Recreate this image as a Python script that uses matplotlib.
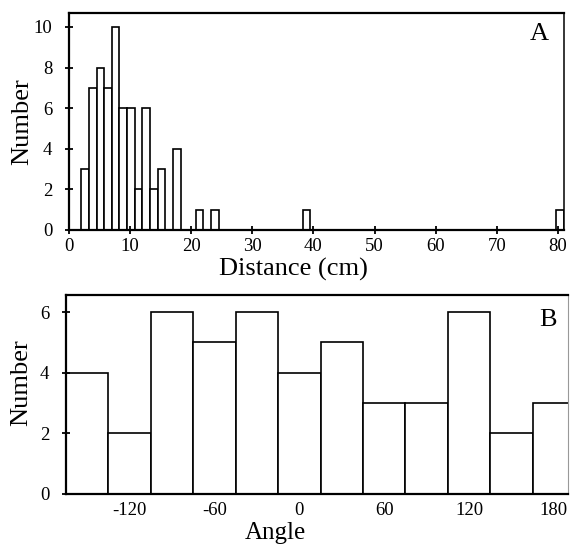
import numpy as np
import matplotlib
matplotlib.use("Agg")
import matplotlib.pyplot as plt

plt.rcParams['font.family'] = ['Liberation Serif', 'DejaVu Serif']
plt.rcParams['axes.unicode_minus'] = False

# Panel A: distance histogram (left edge of each bin, count)
dist_left = [2.0, 3.25, 4.5, 5.75, 7.0, 8.25, 9.5, 10.75, 12.0, 13.25, 14.5,
             17.0, 20.75, 23.25, 38.25, 79.75]
dist_count = [3, 7, 8, 7, 10, 6, 6, 2, 6, 2, 3, 4, 1, 1, 1, 1]
dist_width = 1.25
dist_xticks = [0, 10, 20, 30, 40, 50, 60, 70, 80]
dist_yticks = [0, 2, 4, 6, 8, 10]

# Panel B: angle histogram (bin centres, 30 degree bins)
angle_centre = [-150, -120, -90, -60, -30, 0, 30, 60, 90, 120, 150, 180]
angle_count = [4, 2, 6, 5, 6, 4, 5, 3, 3, 6, 2, 3]
angle_width = 30
angle_xticks = [-120, -60, 0, 60, 120, 180]
angle_yticks = [0, 2, 4, 6]

fig = plt.figure(figsize=(5.7, 5.45), dpi=100)

# ---- A ----
axA = fig.add_axes([0.1211, 0.578, 0.8684, 0.3987])
axA.bar(dist_left, dist_count, width=dist_width, align='edge',
        facecolor='white', edgecolor='black', linewidth=1.2)
axA.set_xlim(0, 81)
axA.set_ylim(0, 10.7)
axA.set_xticks(dist_xticks)
axA.set_yticks(dist_yticks)
axA.tick_params(axis='both', direction='inout', length=6, width=1.3,
                labelsize=13.5)
axA.tick_params(axis='y', pad=9)
axA.tick_params(axis='x', pad=3)
for s in ['left', 'bottom', 'top']:
    axA.spines[s].set_linewidth(1.6)
axA.spines['right'].set_linewidth(1.1)
axA.text(0.95, 0.902, 'A', transform=axA.transAxes, ha='center',
         va='center', fontsize=19)
axA.text(-0.095, 0.5, 'Number', transform=axA.transAxes, ha='center',
         va='center', rotation=90, fontsize=19)
axA.text(0.453, -0.18, 'Distance (cm)', transform=axA.transAxes,
         ha='center', va='center', fontsize=19)

# ---- B ----
axB = fig.add_axes([0.1158, 0.0936, 0.8807, 0.365])
axB.bar(angle_centre, angle_count, width=angle_width, align='center',
        facecolor='white', edgecolor='black', linewidth=1.2)
axB.set_xlim(-165, 190)
axB.set_ylim(0, 6.56)
axB.set_xticks(angle_xticks)
axB.set_yticks(angle_yticks)
axB.tick_params(axis='y', direction='inout', length=6, width=1.3,
                labelsize=13.5, pad=9)
axB.tick_params(axis='x', length=0, labelsize=13.5, pad=6)
for s in ['left', 'bottom', 'top']:
    axB.spines[s].set_linewidth(1.6)
axB.spines['right'].set_linewidth(0.8)
axB.spines['right'].set_color('#999999')
axB.text(0.96, 0.874, 'B', transform=axB.transAxes, ha='center',
         va='center', fontsize=19)
axB.text(-0.089, 0.56, 'Number', transform=axB.transAxes, ha='center',
         va='center', rotation=90, fontsize=19)
axB.text(0.418, -0.197, 'Angle', transform=axB.transAxes,
         ha='center', va='center', fontsize=18)

fig.savefig('out.png', dpi=100)
